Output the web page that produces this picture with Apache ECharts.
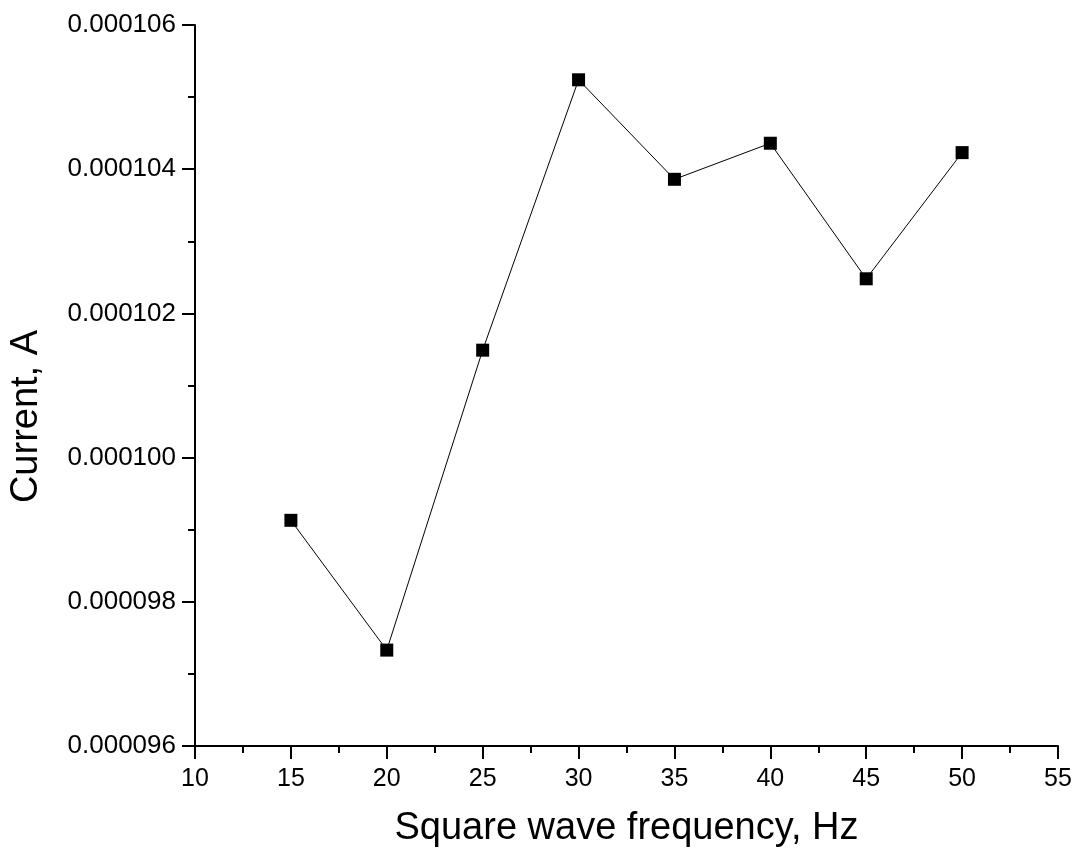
<!DOCTYPE html>
<html>
<head>
<meta charset="utf-8">
<script src="https://cdn.jsdelivr.net/npm/echarts@6/dist/echarts.min.js"></script>
<style>
html,body{margin:0;padding:0;background:#fff}
#main{width:1076px;height:854px}
</style>
</head>
<body>
<div id="main"></div>
<script>
// 数据
var frequency = [15, 20, 25, 30, 35, 40, 45, 50]
var current = [0.00009913, 0.00009733, 0.00010149, 0.00010524, 0.00010386, 0.00010436, 0.00010248, 0.00010423]

var points = []
for (var i = 0; i < frequency.length; i++) {
    points.push([frequency[i], current[i]])
}

var chart = echarts.init(document.getElementById('main'))

var axisFont = 'Liberation Sans, Arial, sans-serif'

chart.setOption({
    animation: false,
    backgroundColor: '#fff',
    grid: { left: 195, right: 18, top: 25, bottom: 108 },
    xAxis: {
        type: 'value',
        min: 10, max: 55, interval: 5,
        name: 'Square wave frequency, Hz',
        nameLocation: 'middle',
        nameGap: 64,
        nameTextStyle: { fontSize: 38, color: '#000', fontFamily: axisFont },
        axisLine: { lineStyle: { color: '#000', width: 2 } },
        axisTick: { inside: false, length: 13, lineStyle: { color: '#000', width: 2 } },
        minorTick: { show: true, splitNumber: 2, length: 7, lineStyle: { color: '#000', width: 2 } },
        axisLabel: { fontSize: 25, color: '#000', fontFamily: axisFont, margin: 21 },
        splitLine: { show: false }
    },
    yAxis: {
        type: 'value',
        min: 0.000096, max: 0.000106, interval: 0.000002,
        name: 'Current, A',
        nameLocation: 'middle',
        nameGap: 149,
        // 标题偏下一点
        nameTextStyle: { fontSize: 38, color: '#000', fontFamily: axisFont, padding: [0, 62, 0, 0] },
        axisLine: { show: true, lineStyle: { color: '#000', width: 2 } },
        axisTick: { show: true, inside: false, length: 13, lineStyle: { color: '#000', width: 2 } },
        minorTick: { show: true, splitNumber: 2, length: 7, lineStyle: { color: '#000', width: 2 } },
        axisLabel: {
            fontSize: 26, color: '#000', fontFamily: axisFont, margin: 19,
            formatter: function (v) { return v.toFixed(6) }
        },
        splitLine: { show: false }
    },
    series: [{
        type: 'line',
        data: points,
        symbol: 'rect',
        symbolSize: 13,
        itemStyle: { color: '#000' },
        lineStyle: { color: '#000', width: 1 }
    }]
})

window.onresize = function () {
    chart.resize()
}
</script>
</body>
</html>
